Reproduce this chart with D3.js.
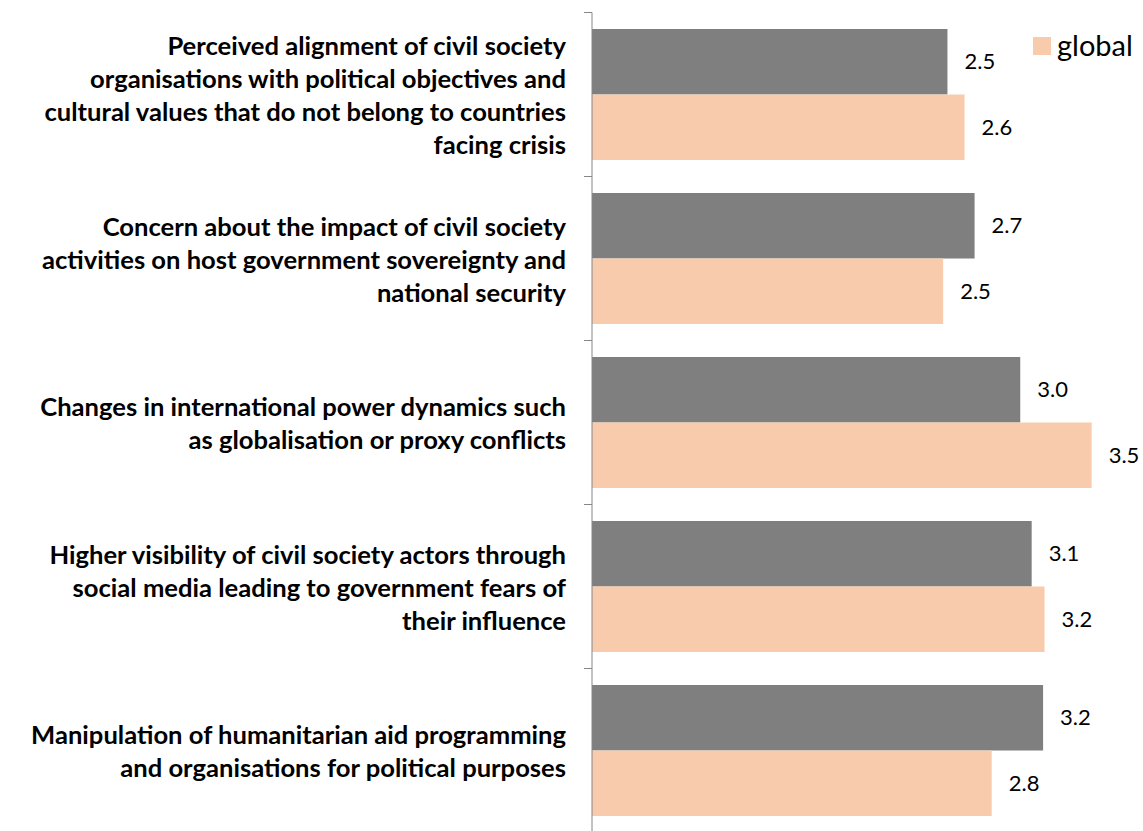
<!DOCTYPE html>
<html><head><meta charset="utf-8">
<script src="https://cdn.jsdelivr.net/npm/d3@7"></script>
<style>body{margin:0;background:#fff}svg{display:block}</style>
</head><body>
<svg id="c" width="1143" height="831"></svg>
<script>
const categories = [
  ["Perceived alignment of civil society","organisations with political objectives and","cultural values that do not belong to countries","facing crisis"],
  ["Concern about the impact of civil society","activities on host government sovereignty and","national security"],
  ["Changes in international power dynamics such","as globalisation or proxy conflicts"],
  ["Higher visibility of civil society actors through","social media leading to government fears of","their influence"],
  ["Manipulation of humanitarian aid programming","and organisations for political purposes"]
];
const seriesNames = ["context", "global"];
const contextValues = [2.49, 2.68, 3.00, 3.08, 3.16];
const globalValues = [2.61, 2.46, 3.50, 3.17, 2.80];
const legendLabels = ["global"];

const colors = {context:"#7f7f7f", global:"#f8cbad"};
const svg = d3.select("#c");
const axisX = 592;
const x = d3.scaleLinear().domain([0,4]).range([axisX, axisX + 571]);
const ids = categories.map((d,i)=>i);
const y = d3.scaleBand().domain(ids).range([12.5, 12.5 + 164*5]).paddingInner(0).paddingOuter(0);
const inner = d3.scaleBand().domain(seriesNames).range([0, y.bandwidth()]).paddingOuter(0.252).paddingInner(0);
const data = ids.map(i=>({i, context:contextValues[i], global:globalValues[i]}));

seriesNames.forEach(s=>{
  svg.append("g").selectAll("rect").data(data).join("rect")
    .attr("x", x(0))
    .attr("y", d=>y(d.i)+inner(s))
    .attr("width", d=>x(d[s])-x(0))
    .attr("height", inner.bandwidth())
    .attr("fill", colors[s]);
  svg.append("g").selectAll("text").data(data).join("text")
    .attr("x", d=>x(d[s])+17)
    .attr("y", d=>y(d.i)+inner(s)+inner.bandwidth()/2)
    .attr("dy","0.35em")
    .attr("font-family","Lato, 'Open Sans', sans-serif")
    .attr("font-size",22)
    .attr("fill","#000")
    .text(d=>d[s].toFixed(1));
});

svg.append("line").attr("x1",axisX).attr("x2",axisX).attr("y1",12.5).attr("y2",831)
  .attr("stroke","#868686").attr("stroke-width",1);
const tickPos = ids.map(i=>y(i)).concat([y(4)+y.bandwidth()]);
svg.append("g").selectAll("line").data(tickPos).join("line")
  .attr("x1",axisX-8).attr("x2",axisX).attr("y1",d=>d).attr("y2",d=>d)
  .attr("stroke","#868686").attr("stroke-width",1);

const lh = 33;
const lab = svg.append("g");
categories.forEach((lines,i)=>{
  const cy = y(i)+y.bandwidth()/2 + 1.5;
  const t = lab.append("text")
    .attr("text-anchor","end")
    .attr("font-family","Lato, 'Open Sans', sans-serif")
    .attr("font-weight","bold")
    .attr("font-size",21)
    .attr("fill","#000");
  lines.forEach((l,k)=>{
    t.append("tspan").attr("x",566)
      .attr("y", cy + (k-(lines.length-1)/2)*lh)
      .attr("dy","0.35em").text(l);
  });
});
let maxW = 0;
lab.selectAll("tspan").each(function(){maxW=Math.max(maxW,this.getComputedTextLength());});
const fs = 21*535/maxW;
lab.selectAll("text").attr("font-size",fs);

const lg = svg.append("g");
lg.append("rect").attr("x",1033).attr("y",37).attr("width",18).attr("height",18).attr("fill",colors.global);
lg.append("text").attr("x",1057).attr("y",46).attr("dy","0.35em")
  .attr("font-family","Lato, 'Open Sans', sans-serif").attr("font-size",29).text(legendLabels[0]);
</script>
</body></html>
